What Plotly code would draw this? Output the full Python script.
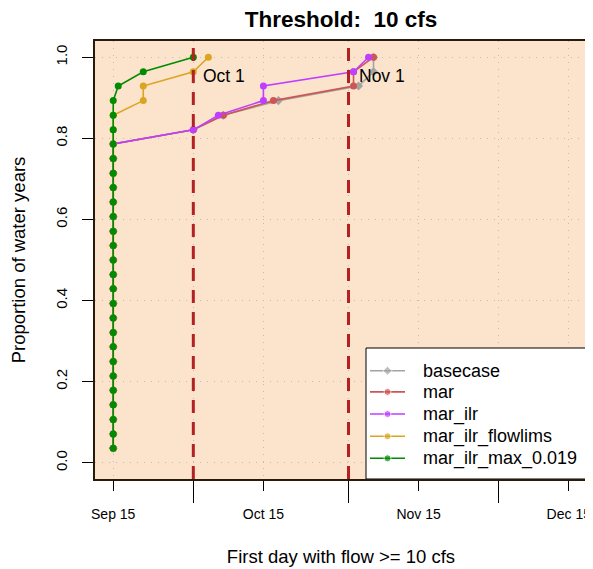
import plotly.graph_objects as go

# ---- data ----
proportion = [0.036, 0.071, 0.107, 0.143, 0.179, 0.214, 0.250, 0.286, 0.321, 0.357,
              0.393, 0.429, 0.464, 0.500, 0.536, 0.571, 0.607, 0.643, 0.679, 0.714,
              0.750, 0.786, 0.821, 0.857, 0.893, 0.929, 0.964, 1.000]

S15 = "2020-09-15"
basecase = [S15, S15, S15, S15, S15, S15, S15, S15, S15, S15, S15, S15, S15, S15,
            S15, S15, S15, S15, S15, S15, S15, S15,
            "2020-10-01", "2020-10-07", "2020-10-18", "2020-11-03", "2020-11-06", "2020-11-06"]
mar = [S15, S15, S15, S15, S15, S15, S15, S15, S15, S15, S15, S15, S15, S15,
       S15, S15, S15, S15, S15, S15, S15, S15,
       "2020-10-01", "2020-10-07", "2020-10-17", "2020-11-02", "2020-11-02", "2020-11-06"]
mar_ilr = [S15, S15, S15, S15, S15, S15, S15, S15, S15, S15, S15, S15, S15, S15,
           S15, S15, S15, S15, S15, S15, S15, S15,
           "2020-10-01", "2020-10-06", "2020-10-15", "2020-10-15", "2020-11-02", "2020-11-05"]
mar_ilr_flowlims = [S15, S15, S15, S15, S15, S15, S15, S15, S15, S15, S15, S15, S15, S15,
                    S15, S15, S15, S15, S15, S15, S15, S15, S15, S15,
                    "2020-09-21", "2020-09-21", "2020-10-01", "2020-10-04"]
mar_ilr_max_0019 = [S15, S15, S15, S15, S15, S15, S15, S15, S15, S15, S15, S15, S15, S15,
                    S15, S15, S15, S15, S15, S15, S15, S15, S15, S15, S15,
                    "2020-09-16", "2020-09-21", "2020-10-01"]

series_names = ["basecase", "mar", "mar_ilr", "mar_ilr_flowlims", "mar_ilr_max_0.019"]
series_data = [basecase, mar, mar_ilr, mar_ilr_flowlims, mar_ilr_max_0019]
series_colors = ["#A3A3A3", "#CD5555", "#BF3EFF", "#DAA520", "#008B00"]
series_symbols = ["diamond", "circle", "circle", "circle", "circle"]

label_ticks = ["2020-09-15", "2020-10-15", "2020-11-15", "2020-12-15"]
label_text = ["Sep 15", "Oct 15", "Nov 15", "Dec 15"]
month_ticks = ["2020-10-01", "2020-11-01", "2020-12-01"]
ref_dates = ["2020-10-01", "2020-11-01"]
ref_labels = ["Oct 1", "Nov 1"]
y_ticks = [0.0, 0.2, 0.4, 0.6, 0.8, 1.0]
y_text = ["0.0", "0.2", "0.4", "0.6", "0.8", "1.0"]

FONT = "Liberation Sans, Arial, Helvetica, sans-serif"
GRID = "#BDBDBD"

# page body has an 8px margin: the figure is drawn offset by (8, 8)
OFF = 8
W, H = 593 - OFF, 569 - OFF
L, T, R, B = 95 - OFF, 41 - OFF, 6, 90
plot_w = W - L - R
plot_h = H - T - B


def px_x(vx):  # viewport pixel -> plot fraction
    return (vx - 95) / plot_w


def px_y(vy):
    return (479 - vy) / plot_h


fig = go.Figure()
for name, xs, col, sym in zip(series_names, series_data, series_colors, series_symbols):
    fig.add_trace(go.Scatter(
        x=xs, y=proportion, mode="lines+markers", name=name, showlegend=False,
        line=dict(color=col, width=1.6),
        marker=dict(color=col, size=7, symbol=sym),
    ))

# ---- legend box (drawn on an overlaid unit axis) ----
bx0, bx1, by0, by1 = px_x(366), px_x(587), px_y(479), px_y(348)
fig.add_trace(go.Scatter(
    x=[bx0, bx1, bx1, bx0, bx0], y=[by0, by0, by1, by1, by0], xaxis="x2", yaxis="y2",
    mode="lines", fill="toself", fillcolor="white", line=dict(color="black", width=1),
    showlegend=False, hoverinfo="skip", cliponaxis=False,
))
entry_y = [370.7, 391.9, 414.0, 436.3, 458.3]
for name, col, sym, vy in zip(series_names, series_colors, series_symbols, entry_y):
    yy = px_y(vy)
    fig.add_trace(go.Scatter(
        x=[px_x(370), px_x(387.5), px_x(405)], y=[yy, yy, yy], xaxis="x2", yaxis="y2",
        mode="lines+markers", line=dict(color=col, width=1.6),
        marker=dict(color=col, size=[0, 7, 0], symbol=sym),
        showlegend=False, hoverinfo="skip", cliponaxis=False,
    ))
    fig.add_annotation(x=px_x(421), y=yy, xref="paper", yref="paper", text=name,
                       showarrow=False, xanchor="left", yanchor="middle",
                       font=dict(size=18, color="black", family=FONT))

for d in ref_dates:
    fig.add_shape(type="line", xref="x", yref="paper", x0=d, x1=d, y0=0, y1=1,
                  line=dict(color="#B22222", width=3, dash="13px,9px"), layer="above")
for d, t in zip(ref_dates, ref_labels):
    fig.add_annotation(x=d, y=0.953, xref="x", yref="y", text=t, showarrow=False,
                       xanchor="left", yanchor="middle", xshift=8,
                       font=dict(size=17.5, color="black", family=FONT))

fig.update_layout(
    width=W, height=H,
    margin=dict(l=L, r=R, t=T, b=B, autoexpand=False),
    paper_bgcolor="white", plot_bgcolor="#FBE4CB",
    font=dict(family=FONT, color="black"),
    title=dict(text="<b>Threshold:  10 cfs</b>", x=(L + plot_w / 2) / W, xanchor="center",
               y=1 - (19 - OFF) / H, yanchor="middle", font=dict(size=22.5, family=FONT)),
    showlegend=False,
    xaxis2=dict(overlaying="x", range=[0, 1], visible=False, fixedrange=True),
    yaxis2=dict(overlaying="y", range=[0, 1], visible=False, fixedrange=True),
)
fig.update_layout(xaxis=dict(
    type="date", range=["2020-09-11 08:38", "2020-12-18 15:22"], automargin=False,
    tickmode="array", tickvals=label_ticks, ticktext=label_text,
    ticks="outside", ticklen=10, tickcolor="black", tickwidth=1,
    tickfont=dict(size=14, family=FONT), ticklabelstandoff=11,
    showgrid=True, gridcolor=GRID, gridwidth=1, griddash="1px,6px",
    minor=dict(tickmode="array", tickvals=month_ticks, ticks="outside", ticklen=22,
               tickcolor="black", tickwidth=1, showgrid=True, gridcolor=GRID,
               gridwidth=1, griddash="1px,6px"),
    showline=True, linecolor="#2a1a0a", linewidth=1.5, mirror=True, zeroline=False,
    title=dict(text="First day with flow >= 10 cfs", font=dict(size=18.5, family=FONT), standoff=30),
))
fig.update_layout(yaxis=dict(
    range=[-0.04, 1.04], automargin=False, tickmode="array", tickvals=y_ticks, ticktext=y_text,
    ticks="outside", ticklen=11, tickcolor="black", tickwidth=1, tickangle=-90,
    tickfont=dict(size=15, family=FONT), ticklabelstandoff=9,
    showgrid=True, gridcolor=GRID, gridwidth=1, griddash="1px,6px",
    showline=True, linecolor="#2a1a0a", linewidth=1.5, mirror=True, zeroline=False,
    title=dict(text="Proportion of water years", font=dict(size=18.5, family=FONT), standoff=24),
))

fig.write_html("out.html")
